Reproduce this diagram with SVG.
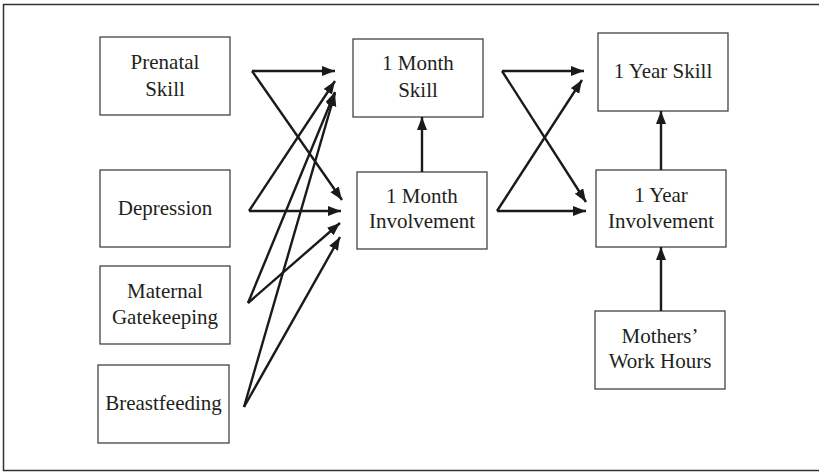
<svg xmlns="http://www.w3.org/2000/svg" width="819" height="472" viewBox="0 0 819 472">
  <defs>
    <marker id="arrow" markerUnits="userSpaceOnUse" markerWidth="14" markerHeight="11" refX="13" refY="5" orient="auto">
      <path d="M0,0 L13,5 L0,10 z" fill="#1a1a1a"/>
    </marker>
    <style>
      .box { fill: #fff; stroke: #444; stroke-width: 1.3; }
      .lbl { font-family: "Liberation Serif", "Times New Roman", serif; font-size: 21px; fill: #231f20; text-anchor: middle; }
      .edge { fill: none; stroke: #1a1a1a; stroke-width: 2.4; marker-end: url(#arrow); }
    </style>
  </defs>

  <rect width="819" height="472" fill="#fff"/>
  <!-- outer frame, open on the right side -->
  <rect x="3.5" y="4.5" width="900" height="466" fill="none" stroke="#333" stroke-width="1.5"/>

  <g id="prenatal-skill">
    <rect class="box" x="100" y="37" width="130" height="78"/>
    <text class="lbl" x="165" y="69">Prenatal</text>
    <text class="lbl" x="165" y="96">Skill</text>
  </g>
  <g id="depression">
    <rect class="box" x="100" y="170" width="130" height="77"/>
    <text class="lbl" x="165" y="215">Depression</text>
  </g>
  <g id="maternal-gatekeeping">
    <rect class="box" x="100" y="266" width="130" height="78"/>
    <text class="lbl" x="165" y="298">Maternal</text>
    <text class="lbl" x="165" y="324">Gatekeeping</text>
  </g>
  <g id="breastfeeding">
    <rect class="box" x="98" y="365" width="131" height="78"/>
    <text class="lbl" x="163.5" y="410">Breastfeeding</text>
  </g>
  <g id="month1-skill">
    <rect class="box" x="353" y="39" width="130" height="78"/>
    <text class="lbl" x="418" y="70">1 Month</text>
    <text class="lbl" x="418" y="97">Skill</text>
  </g>
  <g id="month1-involvement">
    <rect class="box" x="357" y="172" width="130" height="77"/>
    <text class="lbl" x="422" y="203">1 Month</text>
    <text class="lbl" x="422" y="228">Involvement</text>
  </g>
  <g id="year1-skill">
    <rect class="box" x="598" y="33" width="130" height="78"/>
    <text class="lbl" x="663" y="78">1 Year Skill</text>
  </g>
  <g id="year1-involvement">
    <rect class="box" x="596" y="170" width="130" height="77"/>
    <text class="lbl" x="661" y="202">1 Year</text>
    <text class="lbl" x="661" y="228">Involvement</text>
  </g>
  <g id="work-hours">
    <rect class="box" x="595" y="311" width="130" height="78"/>
    <text class="lbl" x="660" y="343">Mothers’</text>
    <text class="lbl" x="660" y="368">Work Hours</text>
  </g>

  <g id="connectors">
    <line class="edge" x1="252" y1="71" x2="335" y2="71"/>
    <line class="edge" x1="252" y1="71" x2="342" y2="200"/>
    <line class="edge" x1="249" y1="211" x2="335" y2="81"/>
    <line class="edge" x1="249" y1="211" x2="341" y2="211"/>
    <line class="edge" x1="248" y1="303" x2="335" y2="92"/>
    <line class="edge" x1="248" y1="303" x2="340" y2="223"/>
    <line class="edge" x1="244" y1="407" x2="335" y2="93"/>
    <line class="edge" x1="244" y1="407" x2="340" y2="237"/>
    <line class="edge" x1="422" y1="172" x2="422" y2="117"/>
    <line class="edge" x1="502" y1="71" x2="584" y2="71"/>
    <line class="edge" x1="502" y1="71" x2="586" y2="202"/>
    <line class="edge" x1="497" y1="211" x2="586" y2="211"/>
    <line class="edge" x1="497" y1="211" x2="582" y2="80"/>
    <line class="edge" x1="661" y1="170" x2="661" y2="111"/>
    <line class="edge" x1="661" y1="311" x2="661" y2="247"/>
  </g>
</svg>
